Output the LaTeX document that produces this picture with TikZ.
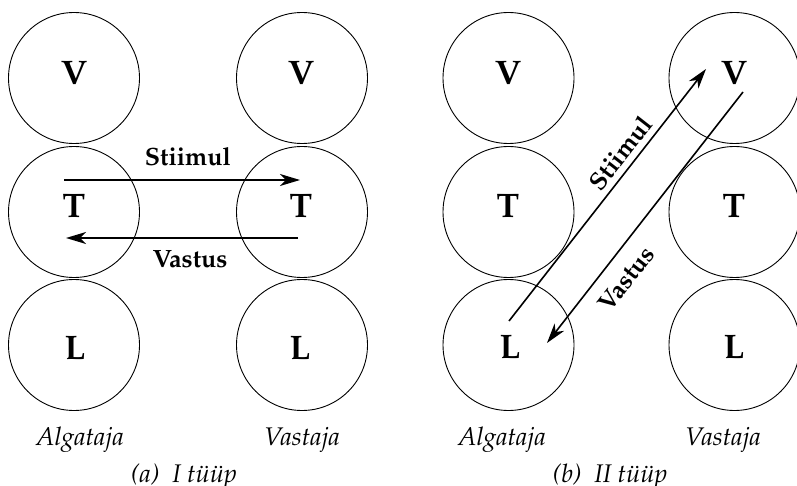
\documentclass[tikz,border=0pt]{standalone}
\usepackage[T1]{fontenc}
\usepackage{mathpazo}
\usetikzlibrary{arrows.meta,calc}
\begin{document}
\begin{tikzpicture}[x=1pt,y=-1pt,
  agent/.style={draw,circle,minimum size=131pt,inner sep=0pt,line width=0.9pt},
  letter/.style={anchor=base,inner sep=0pt,font=\fontsize{34}{38}\selectfont\bfseries},
  arr/.style={line width=1.6pt,-{Stealth[length=20pt,width=12pt,inset=6pt]}},
  lbl/.style={anchor=base,inner sep=0pt,font=\fontsize{25}{29}\selectfont\bfseries},
  rlbl/.style={inner sep=0pt,font=\fontsize{25}{29}\selectfont\bfseries},
  role/.style={anchor=base,inner sep=0pt,font=\fontsize{25.5}{29}\selectfont\itshape},
  subcap/.style={anchor=base,inner sep=0pt,font=\fontsize{25.5}{29}\selectfont\itshape}]
\useasboundingbox (0,0) rectangle (797,486);
% panel (a)
\node[agent] (aV1) at (74,78) {};
\node[agent] (aT1) at (74,212) {};
\node[agent] (aL1) at (74,345) {};
\node[agent] (aV2) at (302,78) {};
\node[agent] (aT2) at (302,212) {};
\node[agent] (aL2) at (302,345) {};
\node[letter] (aV1t) at (74,85) {V};
\node[letter] (aT1t) at (74,218) {T};
\node[letter] (aL1t) at (75,359) {L};
\node[letter] (aV2t) at (301,85) {V};
\node[letter] (aT2t) at (301,218) {T};
\node[letter] (aL2t) at (300,359) {L};
\coordinate (aS1) at ($(aT1.center)+(-10,-32)$);
\coordinate (aS2) at ($(aT2.center)+(-2,-32)$);
\coordinate (aR1) at ($(aT2.center)+(-4,26)$);
\coordinate (aR2) at ($(aT1.center)+(-8,26)$);
\draw[arr] (aS1) -- (aS2);
\draw[arr] (aR1) -- (aR2);
\node[lbl] (aSt) at (188,166) {Stiimul};
\node[lbl] (aVa) at (190,267) {Vastus};
\node[role] (aAl) at (80,445) {Algataja};
\node[role] (aVs) at (302,445) {Vastaja};
\node[subcap] (aCap) at (184,482) {(a)\ \ I tüüp};
% panel (b)
\node[agent] (bV1) at (508.5,78) {};
\node[agent] (bT1) at (508.5,212) {};
\node[agent] (bL1) at (508.5,345) {};
\node[agent] (bV2) at (734.5,78) {};
\node[agent] (bT2) at (734.5,212) {};
\node[agent] (bL2) at (734.5,345) {};
\node[letter] (bV1t) at (508,85) {V};
\node[letter] (bT1t) at (508,218) {T};
\node[letter] (bL1t) at (510,358) {L};
\node[letter] (bV2t) at (734,85) {V};
\node[letter] (bT2t) at (734,218) {T};
\node[letter] (bL2t) at (734,358) {L};
\coordinate (bS1) at ($(bL1.center)+(0.5,-24)$);
\coordinate (bS2) at ($(bV2.center)+(-28.5,-9)$);
\coordinate (bR1) at ($(bV2.center)+(8.5,14)$);
\coordinate (bR2) at ($(bL1.center)+(38.5,-2)$);
\draw[arr] (bS1) -- (bS2);
\draw[arr] (bR1) -- (bR2);
\node[rlbl,rotate=52] (bSt) at (620,153) {Stiimul};
\node[rlbl,rotate=52] (bVa) at (626,279) {Vastus};
\node[role] (bAl) at (502,445) {Algataja};
\node[role] (bVs) at (723,445) {Vastaja};
\node[subcap] (bCap) at (610,482) {(b)\ \ II tüüp};
\end{tikzpicture}
\end{document}
